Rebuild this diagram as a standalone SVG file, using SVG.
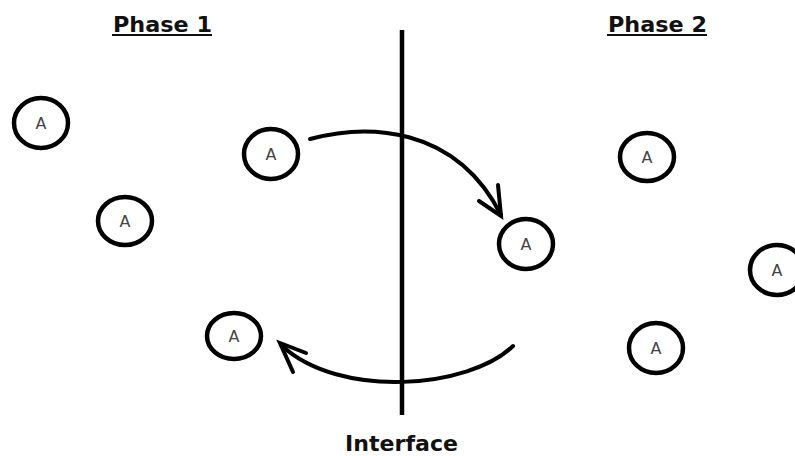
<svg xmlns="http://www.w3.org/2000/svg" width="795" height="456" viewBox="0 0 795 456">
<style>
.node ellipse{fill:#fff;stroke:#000;stroke-width:4.5}
.node text{font-family:"DejaVu Sans",Verdana,sans-serif;font-size:16px;fill:#444;text-anchor:middle}
.title{font-family:"DejaVu Sans",Verdana,sans-serif;font-weight:bold;font-size:22px;fill:#111}
.conn{fill:none;stroke:#000;stroke-width:4;stroke-linecap:round}
</style>
<rect width="795" height="456" fill="#fff"/>
<g id="title-phase1"><text class="title" x="113" y="32" textLength="99" lengthAdjust="spacingAndGlyphs">Phase 1</text><rect x="112" y="34" width="100" height="2" fill="#111"/></g>
<g id="title-phase2"><text class="title" x="608" y="32" textLength="99" lengthAdjust="spacingAndGlyphs">Phase 2</text><rect x="607" y="34" width="100" height="2" fill="#111"/></g>
<g id="interface"><line x1="402" y1="30" x2="402" y2="415" stroke="#000" stroke-width="4.5"/><text class="title" x="345" y="451" textLength="113" lengthAdjust="spacingAndGlyphs">Interface</text></g>
<g id="n1" class="node"><ellipse cx="41" cy="123" rx="27" ry="25"/><text x="41" y="129">A</text></g>
<g id="n2" class="node"><ellipse cx="125" cy="221" rx="27" ry="24"/><text x="125" y="227">A</text></g>
<g id="n3" class="node"><ellipse cx="271" cy="154" rx="27" ry="25"/><text x="271" y="160">A</text></g>
<g id="n4" class="node"><ellipse cx="526" cy="244" rx="27" ry="25"/><text x="526" y="250">A</text></g>
<g id="n5" class="node"><ellipse cx="234" cy="336" rx="27" ry="23"/><text x="234" y="342">A</text></g>
<g id="n6" class="node"><ellipse cx="647" cy="157" rx="27" ry="24"/><text x="647" y="163">A</text></g>
<g id="n7" class="node"><ellipse cx="777" cy="270" rx="27" ry="25"/><text x="777" y="276">A</text></g>
<g id="n8" class="node"><ellipse cx="656" cy="348" rx="27" ry="25"/><text x="656" y="354">A</text></g>
<g id="connectors">
<path class="conn" d="M310,139 C365,124 455,124 501,215"/>
<polyline class="conn" points="479,201 501,216 498,185"/>
<path class="conn" d="M513,346 C470,388 340,400 281,345"/>
<polyline class="conn" points="306,353 280,343 293,372"/>
</g>
</svg>
